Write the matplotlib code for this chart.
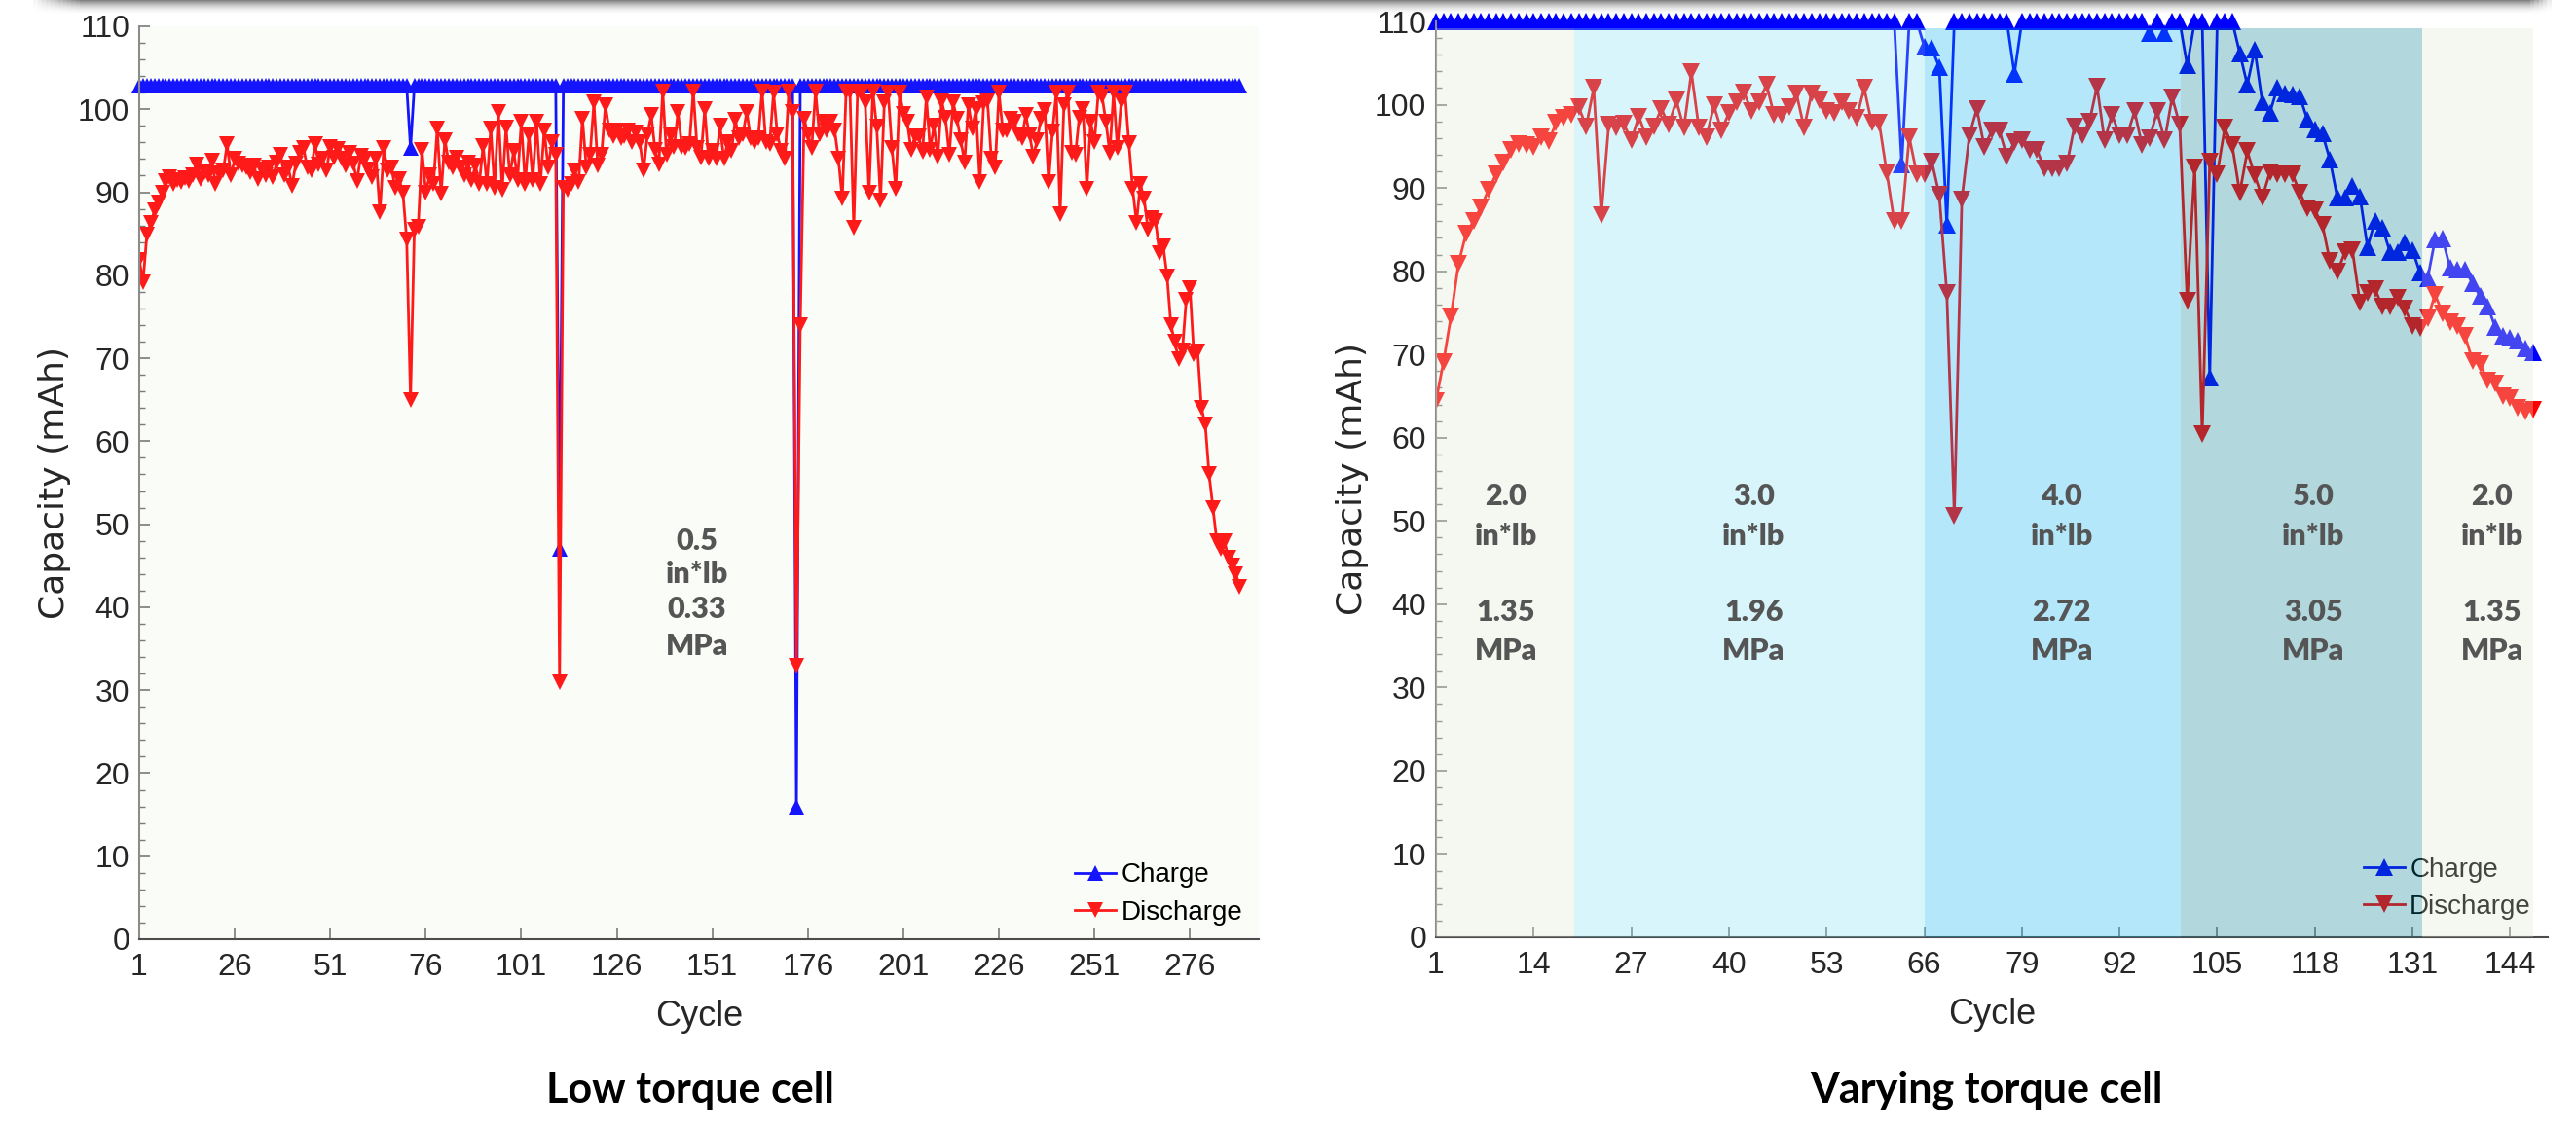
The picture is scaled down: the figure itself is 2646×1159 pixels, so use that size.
import numpy as np
import matplotlib.pyplot as plt
from matplotlib.patches import Rectangle
from matplotlib.ticker import MultipleLocator

plt.rcParams['font.family'] = ['Liberation Sans', 'DejaVu Sans']

W, H = 2646, 1159

# ---- low torque cell (0.5 in*lb), capacity per cycle in mAh ----
low_discharge = [
    81.9, 79.2, 84.9, 86.3, 87.8, 88.8, 90.0, 91.4, 91.8, 91.0,
    91.5, 91.2, 91.7, 91.4, 92.0, 93.4, 91.6, 92.4, 92.0, 93.8,
    91.0, 92.3, 92.6, 95.8, 92.0, 94.0, 93.5, 93.2, 93.0, 92.4,
    93.2, 91.6, 92.8, 92.0, 93.0, 91.8, 93.6, 94.5, 92.0, 93.0,
    90.8, 93.5, 94.8, 95.3, 93.0, 92.6, 95.8, 93.4, 94.0, 92.6,
    95.5, 94.2, 95.2, 94.0, 93.2, 94.8, 93.5, 91.4, 94.4, 94.0,
    92.8, 91.8, 94.0, 87.6, 95.3, 92.6, 93.0, 90.5, 91.6, 90.0,
    84.3, 65.0, 85.5, 85.8, 95.1, 90.0, 92.0, 91.0, 97.7, 89.8,
    96.3, 93.6, 93.0, 94.2, 93.0, 92.0, 93.6, 91.5, 93.2, 91.0,
    95.6, 91.0, 97.7, 90.5, 99.7, 90.3, 97.8, 92.0,
    95.0, 91.5, 98.5, 91.0, 97.0, 91.5, 98.5, 91.0, 97.5, 93.0,
    96.0, 94.5, 31.0, 90.5, 90.3, 91.0, 92.6, 91.2, 98.9, 93.0,
    94.5, 100.8, 93.2, 94.5, 100.5, 97.5, 96.8, 97.5, 96.5, 96.8,
    97.5, 96.0, 97.2, 96.0, 92.6, 97.0, 99.3, 95.1, 93.4, 102.2,
    94.5, 96.9, 95.5, 99.7, 95.5, 95.3, 95.8, 102.2, 95.3, 94.2,
    100.0, 94.0, 95.0, 94.0, 98.0, 94.0, 96.0, 95.0, 98.7, 96.5,
    97.0, 99.7, 96.5, 96.0, 96.5, 102.2, 96.0, 95.8, 102.0, 97.0,
    95.0, 94.0, 102.2, 99.7, 33.0, 74.0, 98.9, 97.0, 95.3, 102.2,
    97.0, 98.5, 97.5, 98.5, 97.5, 94.0, 89.2, 102.2, 102.2, 85.7,
    102.2, 102.0, 100.8, 90.0, 102.2, 97.9, 89.0, 100.8,
    102.0, 95.3, 90.4, 102.0, 99.5, 98.5, 95.1, 96.7, 96.7, 94.9,
    101.4, 95.1, 98.0, 94.3, 101.0, 99.0, 94.5, 100.8, 98.9, 96.3,
    93.6, 100.5, 97.7, 100.0, 91.2, 100.7, 101.0, 94.1, 93.0, 102.0,
    97.5, 97.5, 98.9, 98.5, 97.0, 96.5, 99.3, 97.0, 94.3, 96.3,
    98.9, 99.9, 91.2, 97.3, 102.0, 87.4, 100.5, 102.0, 94.7, 94.5,
    99.0, 100.0, 90.4, 98.5, 96.0, 102.0, 101.5, 98.5, 94.7, 102.0,
    95.3, 101.0, 102.0, 95.9, 90.4, 86.3, 91.0, 89.2, 85.5, 86.9,
    86.5, 82.7, 83.5, 79.9, 74.0, 72.0, 69.9, 70.9, 77.0, 78.4,
    70.5, 70.8, 64.0, 62.0, 56.0, 52.0, 48.0, 47.0, 48.0, 46.0,
    45.0, 44.0, 42.5,
]
# charge sits flat at the instrument cap apart from three dropouts
low_charge = ([102.8] * 71 + [95.3] + [102.8] * 38 + [47.0]
              + [102.8] * 61 + [16.0] + [102.8] * 116)

# ---- varying torque cell ----
var_discharge = [
    64.4, 69.1, 74.6, 80.9, 84.5, 86.0, 87.7, 89.8, 91.6, 93.0,
    94.6, 95.3, 95.2, 94.9, 96.1, 95.6, 97.8, 98.4, 98.8, 99.7,
    97.4, 102.0, 86.7, 97.6, 97.2, 97.7, 95.7, 98.6, 96.1, 97.4,
    99.5, 97.6, 100.5, 97.2, 103.9, 97.2, 96.1, 99.9, 96.9, 99.0,
    100.3, 101.5, 99.2, 100.3, 102.4, 98.8, 98.8, 99.7, 101.3, 97.2,
    101.4, 100.5, 99.2, 99.0, 100.3, 99.2, 98.4, 102.0, 97.8, 97.8,
    91.9, 86.0, 86.0, 96.1, 91.7, 91.7, 93.2, 89.2, 77.4, 50.6,
    88.6, 96.3, 99.5, 94.9, 96.9, 96.9, 93.8, 95.5, 95.7, 94.6,
    94.6, 92.3, 92.3, 92.3, 92.9, 97.4, 96.3, 98.0, 102.2, 95.7,
    98.8, 96.3, 96.3, 99.2, 95.1, 96.0, 99.2, 95.7,
    100.9, 97.6, 76.4, 92.5, 60.4, 93.2, 91.7, 97.2, 95.1, 89.4,
    94.4, 91.5, 88.8, 91.9, 91.7, 91.7, 91.7, 89.4, 87.5, 87.3,
    85.6, 81.2, 79.9, 82.3, 82.5, 76.2, 77.4, 77.9, 75.7, 75.7,
    76.8, 75.5, 73.4, 73.2, 74.3, 77.2, 74.9, 73.9, 73.4, 72.2,
    69.2, 68.8, 66.9, 66.5, 65.0, 64.8, 63.6, 63.1, 63.3,
]
var_charge = (
    [110.0] * 62 + [92.8] + [110.0] * 2 + [107.0, 106.8, 104.5, 85.6]
    + [110.0] * 8 + [103.7] + [110.0] * 17 + [108.6, 110.0, 108.6]
    + [110.0] * 2 + [104.7] + [110.0] * 2 + [67.2] + [110.0] * 3
    + [106.2, 102.4, 106.6, 100.3, 99.0, 102.0, 101.4, 101.2, 101.0, 98.2,
       97.0, 96.5, 93.4, 88.8, 88.8, 90.2, 89.0, 82.9, 86.0, 85.2,
       82.3, 82.3, 83.5, 82.5, 79.8, 79.1, 83.8, 83.9, 80.4, 80.2,
       80.2, 78.5, 77.0, 75.8, 73.3, 72.2, 72.0, 71.6, 70.7, 70.3]
)

# torque steps applied to the varying cell
step_edges = [1.0, 19.4, 66.0, 100.2, 132.3, 147.1]
step_colors = ['#dee8d0', '#7de1f2', '#08b2ee', '#028094', '#dee8d0']
step_torque = ['2.0', '3.0', '4.0', '5.0', '2.0']
step_pressure = ['1.35', '1.96', '2.72', '3.05', '1.35']
step_label_x = [10.3, 43.3, 84.3, 117.8, 141.6]

low_xticks = [1, 26, 51, 76, 101, 126, 151, 176, 201, 226, 251, 276]
var_xticks = [1, 14, 27, 40, 53, 66, 79, 92, 105, 118, 131, 144]

fig = plt.figure(figsize=(W / 100, H / 100), dpi=100)


def px_axes(x0, y0, x1, y1):
    # pixel box (left, top, right, bottom) -> axes
    return fig.add_axes([x0 / W, 1 - y1 / H, (x1 - x0) / W, (y1 - y0) / H])


def style_axes(ax, xmax, xticks):
    ax.set_xlim(1, xmax)
    ax.set_ylim(0, 110)
    ax.set_xticks(xticks)
    ax.yaxis.set_major_locator(MultipleLocator(10))
    ax.yaxis.set_minor_locator(MultipleLocator(2))
    ax.tick_params(which='both', direction='in', colors='#7a7a7a',
                   labelcolor='#262626', labelsize=23)
    ax.tick_params(which='major', length=8, width=1.2)
    ax.tick_params(which='minor', length=4, width=1.0)
    ax.tick_params(axis='y', pad=7)
    ax.tick_params(axis='x', pad=10)
    for s in ('top', 'right'):
        ax.spines[s].set_visible(False)
    ax.spines['left'].set_color('#8c8c8c')
    ax.spines['bottom'].set_color('#4d4d4d')
    ax.spines['left'].set_linewidth(1.5)
    ax.spines['bottom'].set_linewidth(1.5)
    ax.set_xlabel('Cycle', fontsize=26, color='#262626')
    ax.set_ylabel('Capacity (mAh)', fontsize=26, family='DejaVu Sans',
                  color='#262626')
    ax.xaxis.set_label_coords(0.5, -0.085)
    ax.yaxis.set_label_coords(-0.0757, 0.5)
    ax.xaxis.label.set_va('center')
    ax.yaxis.label.set_va('center')


note_kw = dict(ha='center', va='center', fontsize=22, fontweight='heavy',
               family=['Lato', 'DejaVu Sans'], color='#555555', zorder=6)
leg_kw = dict(loc='lower left', frameon=False, fontsize=20, numpoints=1,
              handlelength=1.5, handletextpad=0.2, labelspacing=0.45,
              borderpad=0, borderaxespad=0)

# ---- left: low torque cell ----
ax1 = px_axes(143, 27, 1293, 965)
ax1.set_facecolor('#fafcf7')
cyc = np.arange(1, len(low_discharge) + 1)
ax1.plot(cyc, low_charge, color='#1414ff', marker='^', ms=11, mew=0,
         lw=2.0, label='Charge', clip_on=False)
ax1.plot(cyc, low_discharge, color='#ff1a1a', marker='v', ms=11, mew=0,
         lw=2.0, label='Discharge')
style_axes(ax1, 294, low_xticks)
for txt, y in zip(['0.5', 'in*lb', '0.33', 'MPa'], [48.0, 44.0, 39.7, 35.3]):
    ax1.text(147, y, txt, **note_kw)
ax1.legend(bbox_to_anchor=(0.836, 0.015), **leg_kw)

# ---- right: varying torque cell ----
ax2 = px_axes(1475, 22, 2617, 963)
ax2.set_facecolor('white')
cyc = np.arange(1, len(var_discharge) + 1)
ax2.plot(cyc, var_charge, color='#0000ff', marker='^', ms=12.5, mew=0,
         lw=2.0, label='Charge', clip_on=False, zorder=2)
ax2.plot(cyc, var_discharge, color='#ff0000', marker='v', ms=12.5, mew=0,
         lw=2.0, label='Discharge', zorder=2)
style_axes(ax2, 149, var_xticks)
leg = ax2.legend(bbox_to_anchor=(0.8345, 0.019), **leg_kw)
leg.set_zorder(2.5)

# translucent bands for each torque step, laid over the data
for i, col in enumerate(step_colors):
    ax2.add_patch(Rectangle((step_edges[i], 0), step_edges[i + 1] - step_edges[i],
                            109.2, facecolor=col, edgecolor='none', alpha=0.3,
                            zorder=3))
    xc = step_label_x[i]
    ax2.text(xc, 52.9, step_torque[i], **note_kw)
    ax2.text(xc, 48.2, 'in*lb', **note_kw)
    ax2.text(xc, 39.0, step_pressure[i], **note_kw)
    ax2.text(xc, 34.4, 'MPa', **note_kw)

# panel captions
cap_kw = dict(ha='center', va='center', fontsize=31, fontweight='bold',
              family=['Lato', 'DejaVu Sans'], color='black')
fig.text(709 / W, 1 - 1120 / H, 'Low torque cell', **cap_kw)
fig.text(2040 / W, 1 - 1120 / H, 'Varying torque cell', **cap_kw)

# soft shadow along the top edge
sh = fig.add_axes([30 / W, 1 - 16 / H, 2595 / W, 16 / H])
sh.set_axis_off()
ny, nx = 16, 600
fy = (1 - np.linspace(0, 1, ny)) ** 2
xx = np.linspace(0, 1, nx)
fx = np.clip(np.minimum(xx / 0.02, (1 - xx) / 0.01), 0, 1)
shade = np.zeros((ny, nx, 4))
shade[..., :3] = 0.35
shade[..., 3] = 0.75 * fy[:, None] * fx[None, :]
sh.imshow(shade, aspect='auto', extent=(0, 1, 0, 1))

fig.savefig('out.png', dpi=100)
